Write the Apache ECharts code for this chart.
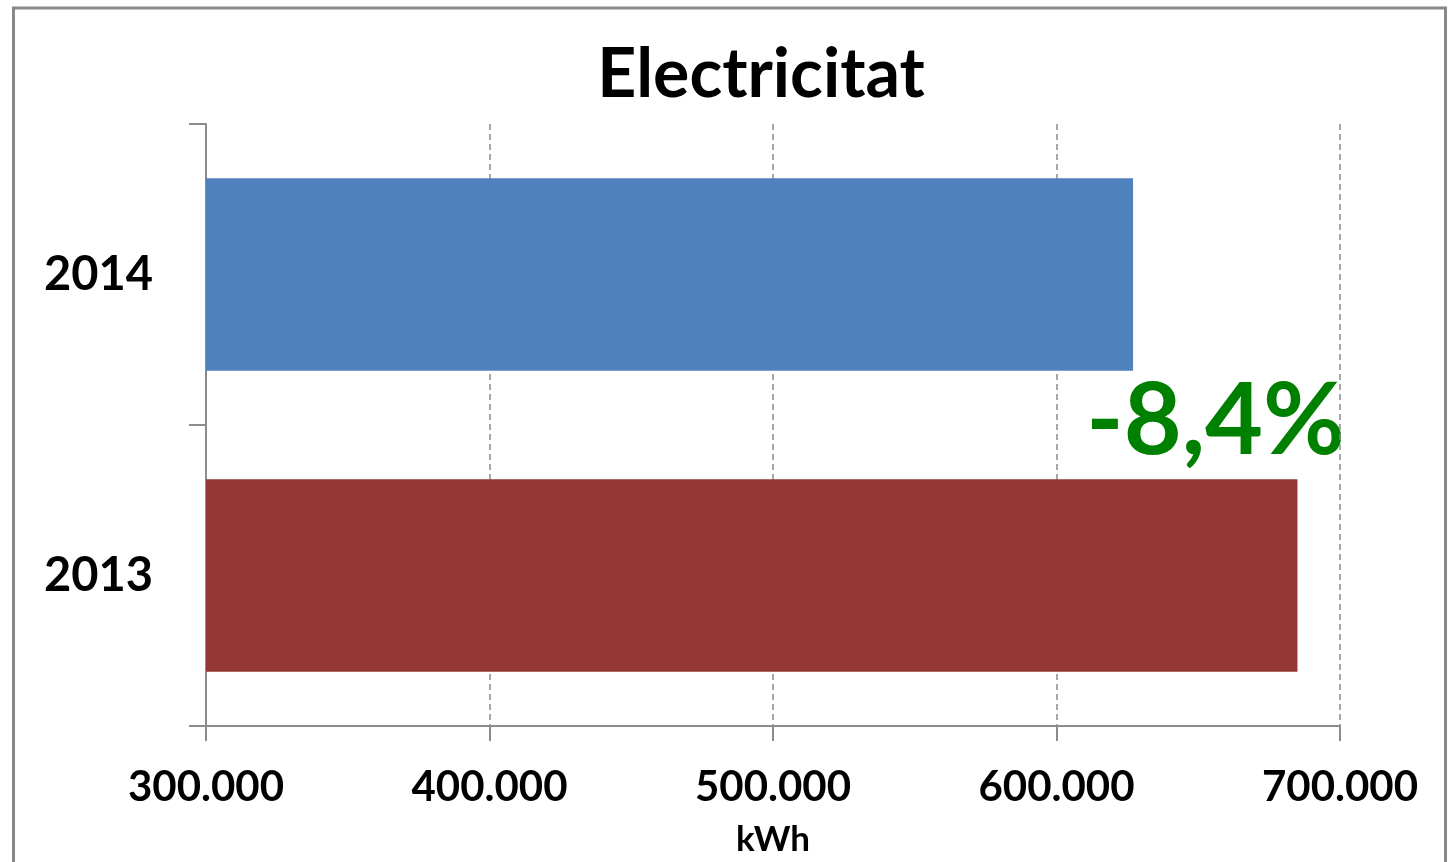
<!DOCTYPE html>
<html>
<head>
<meta charset="utf-8">
<script src="https://cdn.jsdelivr.net/npm/echarts@6/dist/echarts.min.js"></script>
<style>
html,body{margin:0;padding:0;background:#fff;}
#main{width:1451px;height:862px;}
</style>
</head>
<body>
<div id="main"></div>
<script>
const titleText = 'Electricitat';
const categories = ['2013', '2014'];
const values = [685000, 627000];
const barColors = ['#953735', '#4F81BD'];
const xTicks = [300000, 400000, 500000, 600000, 700000];
const axisName = 'kWh';
const changeLabel = '-8,4%';

const FONT = 'Lato, "Open Sans", sans-serif';
const chart = echarts.init(document.getElementById('main'));

function fmt(v){
  return String(Math.round(v)).replace(/\B(?=(\d{3})+(?!\d))/g, '.');
}

const border = {
  type: 'rect',
  shape: {x: 13.5, y: 8, width: 1432, height: 900},
  style: {fill: 'none', stroke: '#888888', lineWidth: 3},
  silent: true
};

const option = {
  backgroundColor: '#ffffff',
  animation: false,
  title: {
    text: titleText,
    left: 756,
    textAlign: 'center',
    top: 36,
    textStyle: {fontFamily: FONT, fontWeight: 'bold', fontSize: 68, color: '#000'}
  },
  grid: {left: 206, right: 111, top: 124, bottom: 135},
  xAxis: {
    type: 'value',
    min: xTicks[0],
    max: xTicks[xTicks.length - 1],
    interval: xTicks[1] - xTicks[0],
    name: axisName,
    nameLocation: 'middle',
    nameGap: 96,
    nameTextStyle: {fontFamily: FONT, fontWeight: 'bold', fontSize: 35, color: '#000'},
    axisLine: {show: true, lineStyle: {color: '#8c8c8c', width: 2}},
    axisTick: {show: true, length: 15, lineStyle: {color: '#8c8c8c', width: 2}},
    axisLabel: {
      margin: 40,
      fontFamily: FONT, fontWeight: 'bold', fontSize: 42, color: '#000',
      formatter: fmt
    },
    splitLine: {show: true, lineStyle: {color: '#8c8c8c', width: 1.5, type: [6, 4]}}
  },
  yAxis: {
    type: 'category',
    data: categories,
    axisLine: {show: true, lineStyle: {color: '#8c8c8c', width: 2}},
    axisTick: {show: true, length: 17, lineStyle: {color: '#8c8c8c', width: 2}},
    axisLabel: {
      margin: 53,
      fontFamily: FONT, fontWeight: 'bold', fontSize: 47, color: '#000'
    },
    splitLine: {show: false}
  },
  series: [{
    type: 'bar',
    barCategoryGap: '36%',
    data: values.map((v, i) => ({value: v, itemStyle: {color: barColors[i]}})),
    silent: true
  }],
  graphic: [border]
};
chart.setOption(option);

// Percentage annotation anchored to the chart scale
const px = chart.convertToPixel({xAxisIndex: 0, yAxisIndex: 0}, [xTicks[xTicks.length - 1], 0]);
const py0 = chart.convertToPixel({yAxisIndex: 0}, categories[0]);
const py1 = chart.convertToPixel({yAxisIndex: 0}, categories[1]);
chart.setOption({
  graphic: [border, {
    type: 'text',
    x: px[0] + 5,
    y: (py0 + py1) / 2 - 3,
    style: {
      text: changeLabel,
      fill: '#008000',
      font: 'bold 100px ' + FONT,
      textAlign: 'right',
      textVerticalAlign: 'middle'
    },
    silent: true
  }]
});
</script>
</body>
</html>
